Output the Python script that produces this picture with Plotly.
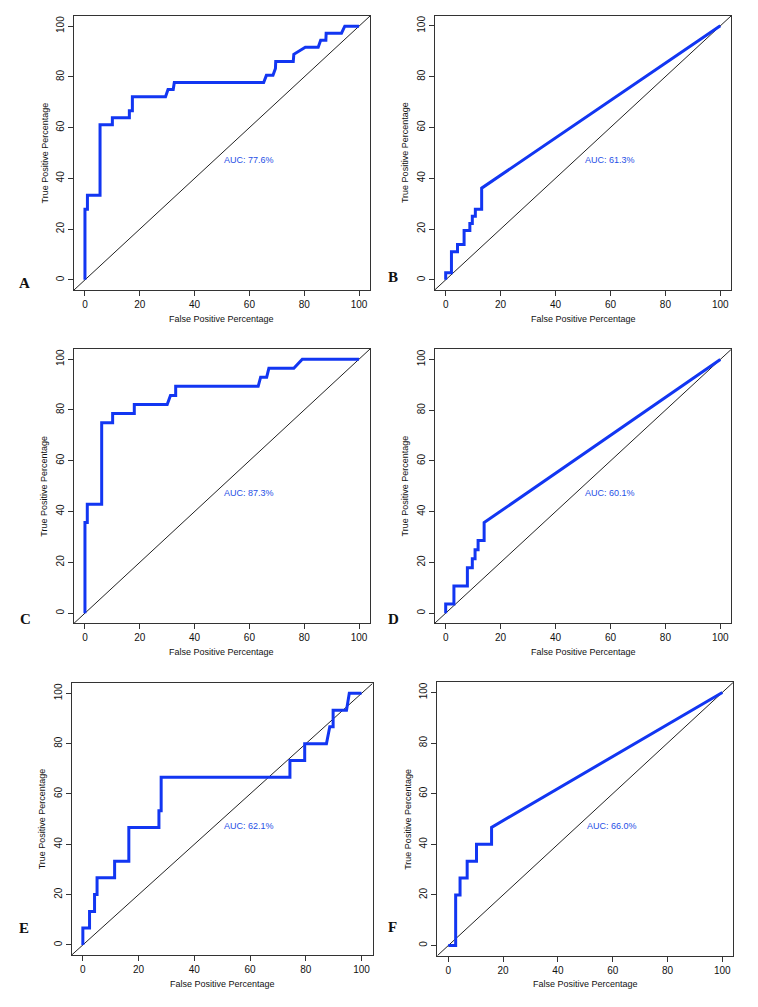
import plotly.graph_objects as go

# ---------------- data ----------------
panel_letters = ["A", "B", "C", "D", "E", "F"]
auc_labels = ["AUC: 77.6%", "AUC: 61.3%", "AUC: 87.3%", "AUC: 60.1%", "AUC: 62.1%", "AUC: 66.0%"]

fpr_A = [0, 0, 0.9, 0.9, 5.5, 5.5, 10.0, 10.0, 16.2, 16.2, 17.3, 17.3, 29.4, 30.3, 32.2, 32.6,
         65.2, 66.2, 68.6, 69.5, 69.6, 76.0, 76.2, 80.4, 85.1, 86.0, 87.9, 88.0, 93.6, 94.8, 100]
tpr_A = [0, 27.8, 27.8, 33.3, 33.3, 61.1, 61.1, 63.9, 63.9, 66.7, 66.7, 72.2, 72.2, 75.0, 75.0, 77.8,
         77.8, 80.6, 80.6, 83.3, 86.1, 86.1, 88.9, 91.7, 91.7, 94.4, 94.4, 97.2, 97.2, 100, 100]

fpr_B = [0, 0, 2.1, 2.1, 4.3, 4.3, 6.7, 6.7, 8.8, 8.8, 9.7, 9.7, 10.8, 10.8, 13.1, 13.1, 100]
tpr_B = [0, 2.8, 2.8, 11.1, 11.1, 13.9, 13.9, 19.4, 19.4, 22.2, 22.2, 25.0, 25.0, 27.8, 27.8, 36.1, 100]

fpr_C = [0, 0, 0.85, 0.85, 6.1, 6.1, 10.1, 10.1, 18.0, 18.0, 30.0, 31.2, 33.1, 33.1, 63.2, 64.1,
         66.3, 67.1, 76.2, 79.3, 100]
tpr_C = [0, 35.7, 35.7, 42.9, 42.9, 75.0, 75.0, 78.6, 78.6, 82.1, 82.1, 85.7, 85.7, 89.3, 89.3, 92.9,
         92.9, 96.4, 96.4, 100, 100]

fpr_D = [0, 0, 3.0, 3.0, 7.9, 7.9, 9.7, 9.7, 10.7, 10.7, 11.8, 11.8, 14.0, 14.0, 100]
tpr_D = [0, 3.6, 3.6, 10.7, 10.7, 17.9, 17.9, 21.4, 21.4, 25.0, 25.0, 28.6, 28.6, 35.7, 100]

fpr_E = [0, 0, 2.4, 2.4, 4.2, 4.2, 5.1, 5.1, 11.4, 11.4, 16.5, 16.5, 27.3, 27.3, 28.1, 28.1,
         74.3, 74.3, 79.6, 79.6, 87.4, 88.6, 89.8, 89.8, 94.6, 95.6, 100]
tpr_E = [0, 6.7, 6.7, 13.3, 13.3, 20.0, 20.0, 26.7, 26.7, 33.3, 33.3, 46.7, 46.7, 53.3, 53.3, 66.7,
         66.7, 73.3, 73.3, 80.0, 80.0, 86.7, 86.7, 93.3, 93.3, 100, 100]

fpr_F = [0, 2.7, 2.7, 4.3, 4.3, 6.9, 6.9, 10.3, 10.3, 15.8, 15.8, 100]
tpr_F = [0, 0, 20.0, 20.0, 26.7, 26.7, 33.3, 33.3, 40.0, 40.0, 46.7, 100]

tick_vals = [0, 20, 40, 60, 80, 100]
x_title = "False Positive Percentage"
y_title = "True Positive Percentage"

# ---------------- layout helpers ----------------
OFF = 8                      # default page body margin
W, H = 742, 991              # figure size inside the 758x1007 window
AXIS_RANGE = [-4, 104]
# panel boxes in page pixels: (left, right, top, bottom)
boxes = [
    (74, 370, 16, 290),
    (434.7, 731.3, 15.7, 290),
    (74, 370, 349, 623.3),
    (434.7, 731.3, 349.3, 623.3),
    (71.7, 372.7, 683.3, 955),
    (437.3, 733.3, 682.3, 955.7),
]
letter_pos = [(24, 283), (393, 277), (25, 619), (393, 619), (24, 928), (392, 927)]
curves = [(fpr_A, tpr_A), (fpr_B, tpr_B), (fpr_C, tpr_C), (fpr_D, tpr_D), (fpr_E, tpr_E), (fpr_F, tpr_F)]


def px(x):
    return (x - OFF) / W


def py(y):
    return 1 - (y - OFF) / H


BLUE = "#1236f2"
AXC = "#333333"
FONT = "Liberation Sans, Arial, sans-serif"

fig = go.Figure()
layout = dict(width=W, height=H, margin=dict(l=0, r=0, t=0, b=0),
              paper_bgcolor="white", plot_bgcolor="white", showlegend=False)
annotations = []

for i, (box, (fx, ty)) in enumerate(zip(boxes, curves)):
    n = "" if i == 0 else str(i + 1)
    xa, ya = "x" + n, "y" + n
    left, right, top, bottom = box
    layout["xaxis" + n] = dict(
        domain=[px(left), px(right)], range=AXIS_RANGE, anchor=ya,
        tickvals=tick_vals, ticks="outside", ticklen=5, tickcolor=AXC,
        tickfont=dict(family=FONT, size=10, color="#111"),
        showline=True, linecolor=AXC, linewidth=1, mirror=True,
        showgrid=False, zeroline=False, fixedrange=True)
    layout["yaxis" + n] = dict(
        domain=[py(bottom), py(top)], range=AXIS_RANGE, anchor=xa,
        tickvals=tick_vals, ticks="outside", ticklen=5, tickcolor=AXC, tickangle=-90,
        tickfont=dict(family=FONT, size=10, color="#111"),
        showline=True, linecolor=AXC, linewidth=1, mirror=True,
        showgrid=False, zeroline=False, fixedrange=True)

    # identity line
    fig.add_trace(go.Scatter(x=AXIS_RANGE, y=AXIS_RANGE, mode="lines",
                             line=dict(color="#222222", width=1), xaxis=xa, yaxis=ya,
                             hoverinfo="skip"))
    # ROC curve
    fig.add_trace(go.Scatter(x=fx, y=ty, mode="lines",
                             line=dict(color=BLUE, width=3), xaxis=xa, yaxis=ya))

    # AUC text
    annotations.append(dict(x=50, y=50, xref=xa, yref=ya, text=auc_labels[i],
                            showarrow=False, xanchor="left", yanchor="top",
                            font=dict(family=FONT, size=9, color="#1f4fe6")))
    # axis titles
    annotations.append(dict(x=px((left + right) / 2), y=py(bottom + 28.5),
                            xref="paper", yref="paper", text=x_title, showarrow=False,
                            xanchor="center", yanchor="middle",
                            font=dict(family=FONT, size=9, color="#111")))
    ymid = (top + bottom) / 2
    annotations.append(dict(x=px(left - 29.5), y=py(ymid),
                            xref="paper", yref="paper", text=y_title, showarrow=False,
                            textangle=-90, xanchor="center", yanchor="middle",
                            font=dict(family=FONT, size=9, color="#111")))
    # panel letter
    lx, ly = letter_pos[i]
    annotations.append(dict(x=px(lx), y=py(ly), xref="paper", yref="paper",
                            text="<b>" + panel_letters[i] + "</b>", showarrow=False,
                            xanchor="center", yanchor="middle",
                            font=dict(family="Liberation Serif, DejaVu Serif, serif", size=15,
                                      color="#111")))

layout["annotations"] = annotations
fig.update_layout(**layout)
fig.write_html("out.html")
